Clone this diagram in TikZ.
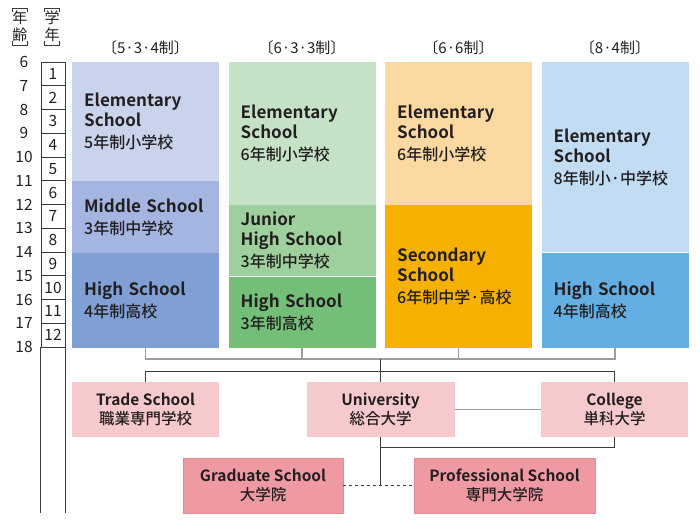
\documentclass[tikz,border=0pt]{standalone}
\usepackage{fontspec}
\setmainfont{Noto Sans CJK JP}
\newfontfamily\enfont{Noto Sans CJK JP Bold}
\newfontfamily\jamed{Noto Sans CJK JP Medium}
\usetikzlibrary{positioning}
\definecolor{elemA}{RGB}{201,212,236}
\definecolor{midA}{RGB}{163,181,224}
\definecolor{highA}{RGB}{127,159,213}
\definecolor{elemB}{RGB}{198,226,198}
\definecolor{juniorB}{RGB}{158,208,157}
\definecolor{highB}{RGB}{116,191,120}
\definecolor{elemC}{RGB}{252,217,160}
\definecolor{secC}{RGB}{246,177,0}
\definecolor{elemD}{RGB}{193,220,243}
\definecolor{highD}{RGB}{99,174,226}
\definecolor{pinklt}{RGB}{246,202,204}
\definecolor{pinkdk}{RGB}{239,154,162}
\definecolor{pinkedge}{RGB}{232,136,146}
\definecolor{linegray}{RGB}{157,157,157}
\definecolor{linedark}{RGB}{60,60,60}
\definecolor{txtdark}{RGB}{35,31,32}
\newcommand\eng[1]{{\enfont\fontsize{17}{20}\selectfont #1}}
\newcommand\engs[1]{{\enfont #1}}
\newcommand\jap[1]{{\jamed #1}}

\begin{document}
\begin{tikzpicture}[x=1pt, y=-1pt,
    blk/.style={anchor=north west, text width=123pt, inner xsep=12pt,
                inner ysep=0pt, align=left, text=txtdark,
                font=\fontsize{16}{20}\selectfont},
    head/.style={font=\fontsize{15}{17}\selectfont, text=txtdark},
    age/.style={font=\fontsize{15.5}{18}\selectfont, text=txtdark},
    cell/.style={draw=linedark, line width=0.8pt, minimum width=24pt,
                 minimum height=23.75pt, inner sep=0pt,
                 font=\fontsize{15.5}{18}\selectfont, text=txtdark},
    vlabel/.style={font=\fontsize{15}{17}\selectfont, text=txtdark,
                   align=center, inner xsep=0pt, inner ysep=3pt,
                   minimum width=8pt},
    pinkbox/.style={fill=pinklt, minimum height=55pt, align=center,
                    inner sep=0pt, text=txtdark,
                    font=\fontsize{15.5}{19}\selectfont},
    grad/.style={pinkbox, fill=pinkdk, draw=pinkedge, line width=0.6pt},
    grayline/.style={draw=linegray, line width=1.5pt},
    darkline/.style={draw=linedark, line width=0.9pt}]
  \useasboundingbox (0,0) rectangle (700,521);

  % age and grade scale
  \node[vlabel] (nenrei) at (20,26.5) {年\\齢};
  \node[vlabel] (gakunen) at (52,26.5) {学\\年};
  \foreach \lbl in {nenrei,gakunen} {
    \draw[linedark, line width=0.7pt] (\lbl.north west) ++(0,4) -- ++(0,-4)
      -- (\lbl.north east) -- ++(0,4);
    \draw[linedark, line width=0.7pt] (\lbl.south west) ++(0,-4) -- ++(0,4)
      -- (\lbl.south east) -- ++(0,-4);
  }
  \foreach \a in {6,...,18}
    \node[age] (a\a) at (24, {62+(\a-6)*23.75}) {\a};
  \foreach \i in {1,...,12}
    \node[cell] (g\i) at (53, {62+(\i-0.5)*23.75}) {\i};
  \draw[linedark, line width=0.8pt] (g12.south west) -- ++(0,166);
  \draw[linedark, line width=0.8pt] (g12.south east) -- ++(0,166);

  % school systems
  \node[head] (h1) at (145.5,48) {〔5·3·4制〕};
  \node[head] (h2) at (302,48) {〔6·3·3制〕};
  \node[head] (h3) at (458.5,48) {〔6·6制〕};
  \node[head] (h4) at (615,48) {〔8·4制〕};

  \node[blk, fill=elemA, minimum height=118.75pt] (E1) at (72,62)
    {\eng{Elementary}\\\eng{School}\\[2pt]\jap{5年制小学校}};
  \node[blk, fill=midA, minimum height=71.25pt, below=0pt of E1] (M1)
    {\eng{Middle School}\\[2pt]\jap{3年制中学校}};
  \node[blk, fill=highA, minimum height=95pt, below=0pt of M1] (H1)
    {\eng{High School}\\[2pt]\jap{4年制高校}};

  \node[blk, fill=elemB, minimum height=142.5pt] (E2) at (228.5,62)
    {\eng{Elementary}\\\eng{School}\\[2pt]\jap{6年制小学校}};
  \node[blk, fill=juniorB, minimum height=71.25pt, below=0pt of E2] (J2)
    {\eng{Junior}\\\eng{High School}\\[2pt]\jap{3年制中学校}};
  \node[blk, fill=highB, minimum height=71.25pt, below=0pt of J2] (H2)
    {\eng{High School}\\[2pt]\jap{3年制高校}};

  \node[blk, fill=elemC, minimum height=142.5pt] (E3) at (385,62)
    {\eng{Elementary}\\\eng{School}\\[2pt]\jap{6年制小学校}};
  \node[blk, fill=secC, minimum height=142.5pt, below=0pt of E3] (S3)
    {\eng{Secondary}\\\eng{School}\\[2pt]\jap{6年制中学·高校}};

  \node[blk, fill=elemD, minimum height=190pt] (E4) at (541.5,62)
    {\eng{Elementary}\\\eng{School}\\[2pt]\jap{8年制小·中学校}};
  \node[blk, fill=highD, minimum height=95pt, below=0pt of E4] (H4)
    {\eng{High School}\\[2pt]\jap{4年制高校}};

  % higher education
  \node[pinkbox, minimum width=147pt] (trade) at (145.5,409.5)
    {\engs{Trade School}\\\jap{職業専門学校}};
  \node[pinkbox, minimum width=148pt] (univ) at (380.5,409.5)
    {\engs{University}\\\jap{総合大学}};
  \node[pinkbox, minimum width=147pt] (college) at (614.5,409.5)
    {\engs{College}\\\jap{単科大学}};
  \node[grad, minimum width=160pt] (gradsch) at (263,485.5)
    {\engs{Graduate School}\\\jap{大学院}};
  \node[grad, minimum width=181pt] (prof) at (504.5,485.5)
    {\engs{Professional School}\\\jap{専門大学院}};

  \draw[grayline] (H1.south) -- ++(0,11) coordinate (bus) -| (H4.south);
  \draw[grayline] (H2.south) -- (H2.south |- bus);
  \draw[grayline] (S3.south) -- (S3.south |- bus);
  \draw[darkline] (univ.north |- bus) -- (univ.north);
  \draw[darkline] (trade.north) -- ++(0,-10) -| (college.north);
  \draw[grayline] (univ.east) -- (college.west);
  \draw[darkline] (college.south) -- ++(0,10) -| (univ.south);
  \draw[darkline] (univ.south) -- (univ.south |- gradsch.east);
  \draw[darkline, dashed] (gradsch.east) -- (prof.west);
\end{tikzpicture}
\end{document}
